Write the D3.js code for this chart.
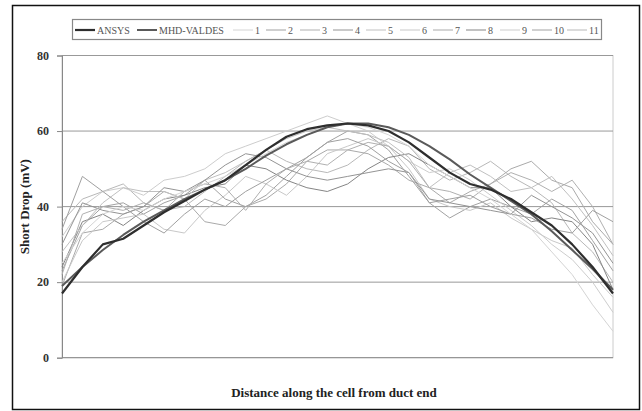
<!DOCTYPE html>
<html>
<head>
<meta charset="utf-8">
<script src="https://cdn.jsdelivr.net/npm/d3@7"></script>
<style>
  body { margin: 0; background: #fff; }
  svg { display: block; font-family: "Liberation Serif", "DejaVu Serif", serif; }
</style>
</head>
<body>
<svg id="chart" width="642" height="411"></svg>
<script>
// positions along the cell (no labels on the x axis)
const positions = d3.range(28);
const yTicks = [0, 20, 40, 60, 80];

const ansys = [17, 24, 30, 31.5, 35, 38.5, 41.5, 44.5, 47, 51, 55, 58.5, 60.5, 61.5, 62, 61.5, 60, 57, 53, 49, 46, 44.5, 42, 38.5, 35, 30, 24, 17];
const mhdValdes = [19, 24, 28.5, 32.5, 36, 39, 42, 44.5, 47, 50, 53.5, 56.5, 59, 61, 62, 62, 61, 59, 56, 52.5, 48.5, 45, 41.5, 38, 33.5, 28.5, 23.5, 18];

const s1 = [25, 33, 38, 40, 39, 42, 44, 46, 48, 51, 54, 57, 59, 61, 62, 61, 59, 56, 51, 48, 45, 42, 38, 34, 28, 22, 14, 7];
const s2 = [34, 48, 44, 40, 36, 33, 38, 42, 40, 44, 47, 50, 53, 57, 58, 56, 52, 49, 41, 42, 43, 40, 38, 37, 34, 33, 39, 36];
const s3 = [22, 38, 40, 39, 41, 39, 44, 46, 45, 39, 46, 50, 52, 51, 55, 57, 56, 52, 45, 44, 42, 46, 49, 47, 44, 47, 40, 30];
const s4 = [30, 41, 39, 38, 40, 45, 44, 47, 51, 54, 53, 50, 48, 47, 48, 49, 50, 49, 42, 41, 40, 39, 38, 43, 40, 37, 33, 25];
const s5 = [28, 35, 41, 45, 44, 44, 42, 47, 49, 52, 55, 58, 60, 61, 60, 59, 57, 53, 45, 49, 51, 48, 44, 45, 48, 42, 35, 27];
const s6 = [20, 31, 36, 37, 38, 34, 33, 39, 43, 48, 46, 43, 48, 54, 56, 58, 56, 50, 42, 40, 39, 41, 37, 34, 31, 29, 22, 16];
const s7 = [19, 33, 34, 38, 40, 44, 42, 36, 35, 40, 42, 46, 52, 55, 55, 54, 51, 47, 45, 41, 44, 46, 50, 52, 47, 45, 36, 30];
const s8 = [24, 36, 38, 35, 39, 42, 43, 45, 46, 51, 50, 47, 45, 44, 46, 50, 53, 54, 51, 48, 45, 45, 40, 36, 37, 36, 30, 18];
const s9 = [32, 40, 44, 45, 43, 47, 48, 50, 54, 56, 58, 60, 62, 64, 62, 60, 56, 52, 49, 50, 47, 43, 39, 35, 30, 26, 20, 12];
const s10 = [23, 35, 40, 41, 38, 41, 43, 47, 42, 40, 43, 48, 53, 57, 60, 59, 55, 48, 41, 37, 40, 42, 40, 38, 42, 39, 31, 23];
const s11 = [36, 42, 44, 46, 41, 39, 40, 44, 48, 52, 55, 52, 50, 49, 51, 55, 58, 56, 50, 47, 49, 52, 48, 45, 41, 33, 28, 20];

const series = [
  { name: "ANSYS", values: ansys, color: "#2e2e2e", width: 2.2 },
  { name: "MHD-VALDES", values: mhdValdes, color: "#5a5a5a", width: 2 },
  { name: "1", values: s1, color: "#d4d4d4", width: 1 },
  { name: "2", values: s2, color: "#a0a0a0", width: 1 },
  { name: "3", values: s3, color: "#b0b0b0", width: 1 },
  { name: "4", values: s4, color: "#949494", width: 1 },
  { name: "5", values: s5, color: "#c0c0c0", width: 1 },
  { name: "6", values: s6, color: "#c8c8c8", width: 1 },
  { name: "7", values: s7, color: "#aaa", width: 1 },
  { name: "8", values: s8, color: "#858585", width: 1 },
  { name: "9", values: s9, color: "#cdcdcd", width: 1 },
  { name: "10", values: s10, color: "#a2a2a2", width: 1 },
  { name: "11", values: s11, color: "#b8b8b8", width: 1 }
];

const svg = d3.select("#chart");
const plot = { left: 62, right: 613, top: 55.5, bottom: 357.7 };

const x = d3.scaleLinear().domain([0, positions.length - 1]).range([plot.left, plot.right]);
const y = d3.scaleLinear().domain([0, 80]).range([plot.bottom, plot.top]);

// outer frame
svg.append("rect")
  .attr("x", 12.5).attr("y", 5.5).attr("width", 627).attr("height", 404)
  .attr("fill", "none").attr("stroke", "#111").attr("stroke-width", 1.5);

// plot area frame
svg.append("rect")
  .attr("x", plot.left).attr("y", plot.top)
  .attr("width", plot.right - plot.left).attr("height", plot.bottom - plot.top)
  .attr("fill", "none").attr("stroke", "#ccc");

// gridlines
svg.append("g")
  .selectAll("line")
  .data(yTicks.filter(d => d > 0))
  .join("line")
  .attr("x1", plot.left).attr("x2", plot.right)
  .attr("y1", d => y(d)).attr("y2", d => y(d))
  .attr("stroke", "#999").attr("stroke-width", 1);

// y axis
const yAxis = svg.append("g")
  .attr("transform", `translate(${plot.left},0)`)
  .call(d3.axisLeft(y).tickValues(yTicks).tickSize(5).tickPadding(8));
yAxis.select(".domain").attr("stroke", "#888");
yAxis.selectAll(".tick line").attr("stroke", "#888");
yAxis.selectAll(".tick text")
  .attr("font-family", "Liberation Serif, serif")
  .attr("font-size", 12).attr("font-weight", "bold").attr("fill", "#333");

// x axis baseline
svg.append("line")
  .attr("x1", plot.left).attr("x2", plot.right)
  .attr("y1", y(0)).attr("y2", y(0))
  .attr("stroke", "#888");

// lines: thin ones first, thick ones on top
const line = d3.line()
  .x((d, i) => x(positions[i]))
  .y(d => y(d));

svg.append("g")
  .selectAll("path")
  .data(series.slice().reverse())
  .join("path")
  .attr("fill", "none")
  .attr("stroke", d => d.color)
  .attr("stroke-width", d => d.width)
  .attr("stroke-linejoin", "round")
  .attr("d", d => line(d.values));

// axis titles
svg.append("text")
  .attr("transform", `translate(29,${(plot.top + plot.bottom) / 2}) rotate(-90)`)
  .attr("text-anchor", "middle")
  .attr("font-size", 13).attr("font-weight", "bold").attr("fill", "#222")
  .text("Short Drop (mV)");

svg.append("text")
  .attr("x", 334).attr("y", 397)
  .attr("text-anchor", "middle")
  .attr("font-size", 13).attr("font-weight", "bold").attr("fill", "#222")
  .text("Distance along the cell from duct end");

// legend
const legend = svg.append("g");
legend.append("rect")
  .attr("x", 72.5).attr("y", 19.5).attr("width", 529).attr("height", 20)
  .attr("fill", "#fff").attr("stroke", "#888").attr("stroke-width", 1.2);

const legendX = [75, 137, 233, 266, 300, 333, 366, 400, 433, 466, 500, 532, 567];
const item = legend.selectAll("g.item")
  .data(series)
  .join("g")
  .attr("class", "item")
  .attr("transform", (d, i) => `translate(${legendX[i]},30)`);
item.append("line")
  .attr("x1", 0).attr("x2", 20)
  .attr("stroke", d => d.color)
  .attr("stroke-width", d => d.width);
item.append("text")
  .attr("x", 22).attr("y", 3.5)
  .attr("font-size", 10).attr("fill", "#555")
  .text(d => d.name);
</script>
</body>
</html>
